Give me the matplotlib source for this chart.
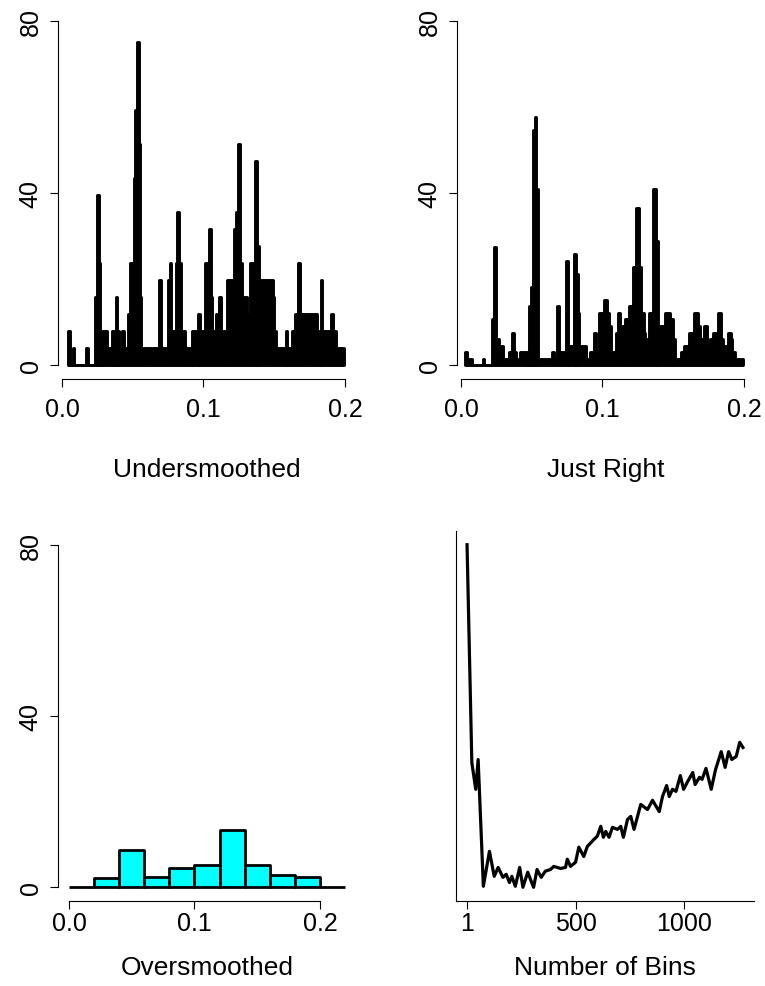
import matplotlib
matplotlib.use("Agg")
import matplotlib.pyplot as plt
import numpy as np

plt.rcParams['font.family'] = ['Liberation Sans', 'DejaVu Sans']

# ---- undersmoothed histogram: step breaks (redshift) and galaxy counts per step
under_breaks = [0.0046, 0.0059, 0.0076, 0.0087, 0.0171, 0.0182, 0.0235, 0.0247, 0.0260, 0.0270,
                0.0286, 0.0300, 0.0307, 0.0318, 0.0353, 0.0367, 0.0382, 0.0392, 0.0403, 0.0424,
                0.0436, 0.0470, 0.0484, 0.0511, 0.0519, 0.0530, 0.0543, 0.0553, 0.0562, 0.0688,
                0.0700, 0.0746, 0.0762, 0.0774, 0.0806, 0.0816, 0.0830, 0.0841, 0.0869, 0.0919,
                0.0958, 0.0972, 0.1013, 0.1025, 0.1036, 0.1050, 0.1060, 0.1088, 0.1113, 0.1127,
                0.1163, 0.1214, 0.1232, 0.1247, 0.1259, 0.1270, 0.1305, 0.1332, 0.1364, 0.1377,
                0.1392, 0.1488, 0.1498, 0.1512, 0.1580, 0.1590, 0.1625, 0.1650, 0.1671, 0.1682,
                0.1802, 0.1830, 0.1841, 0.1898, 0.1912, 0.1936, 0.1993]
under_counts = [2, 0, 1, 0, 1, 0, 4, 10, 6, 1,
                2, 1, 2, 1, 2, 1, 4, 2, 1, 2,
                1, 3, 6, 11, 15, 19, 13, 4, 1, 5,
                1, 5, 6, 2, 6, 9, 6, 2, 1, 2,
                3, 2, 6, 3, 8, 4, 2, 3, 4, 2,
                5, 8, 9, 13, 6, 4, 3, 6, 12, 7,
                5, 4, 2, 1, 2, 1, 2, 3, 6, 3,
                2, 5, 2, 3, 2, 1]
under_unit = 3.945   # density of one galaxy in a bin

# ---- cross-validated histogram (308 bins)
right_breaks = [0.0032, 0.0046, 0.0078, 0.0153, 0.0164, 0.0221, 0.0236, 0.0249, 0.0267, 0.0295,
                0.0338, 0.0364, 0.0377, 0.0388, 0.0402, 0.0416, 0.0441, 0.0449, 0.0460, 0.0470,
                0.0479, 0.0495, 0.0507, 0.0520, 0.0532, 0.0544, 0.0644, 0.0655, 0.0680, 0.0693,
                0.0744, 0.0756, 0.0796, 0.0810, 0.0824, 0.0835, 0.0883, 0.0911, 0.0943, 0.0954,
                0.0979, 0.1014, 0.1032, 0.1046, 0.1060, 0.1096, 0.1107, 0.1121, 0.1132, 0.1157,
                0.1189, 0.1214, 0.1238, 0.1261, 0.1270, 0.1292, 0.1302, 0.1313, 0.1327, 0.1356,
                0.1381, 0.1391, 0.1441, 0.1480, 0.1495, 0.1516, 0.1552, 0.1577, 0.1609, 0.1648,
                0.1676, 0.1690, 0.1719, 0.1740, 0.1762, 0.1783, 0.1801, 0.1815, 0.1840, 0.1854,
                0.1890, 0.1907, 0.1918, 0.1940, 0.1993]
right_counts = [2, 1, 0, 1, 0, 7, 18, 4, 3, 1,
                2, 5, 2, 1, 0, 2, 0, 2, 1, 2,
                9, 12, 36, 38, 27, 1, 2, 1, 9, 2,
                16, 3, 17, 14, 8, 3, 1, 2, 5, 2,
                8, 10, 8, 6, 2, 5, 8, 5, 6, 7,
                9, 15, 24, 15, 8, 5, 4, 3, 8, 27,
                19, 6, 8, 7, 4, 1, 2, 3, 5, 8,
                6, 4, 6, 3, 4, 5, 4, 8, 4, 3,
                5, 4, 2, 1]
right_unit = 1.519

# ---- oversmoothed histogram
over_breaks = np.arange(0, 0.2201, 0.02)
over_density = [0, 2.2, 8.7, 2.4, 4.4, 5.1, 13.3, 5.1, 2.8, 2.5, 0]

# ---- estimated risk against number of bins
risk_bins = [1, 23, 41, 52, 76, 104, 126, 144, 166, 181, 196, 207, 223, 243, 258,
             280, 307, 323, 342, 361, 385, 400, 431, 454, 462, 477, 500, 515, 538, 554,
             585, 600, 616, 628, 639, 654, 670, 693, 708, 720, 739, 754, 769, 800, 831,
             854, 885, 900, 919, 931, 946, 962, 982, 997, 1016, 1039, 1050, 1070, 1082, 1100,
             1124, 1144, 1170, 1188, 1204, 1219, 1239, 1255, 1270]
risk_value = [100.3, 36.7, 28.9, 37.6, 0.6, 10.8, 3.5, 6.1, 3.2, 4.1, 1.7, 3.5, 0.6, 6.1, 0.3,
              4.7, 0.3, 5.5, 3.2, 5.0, 5.5, 6.4, 5.8, 6.1, 8.5, 6.4, 7.6, 12.0, 9.3, 12.2,
              14.3, 15.2, 18.1, 14.9, 16.6, 14.9, 17.8, 17.2, 18.1, 14.9, 20.1, 21.0, 17.2, 24.5, 23.0,
              25.7, 22.4, 26.8, 30.0, 26.8, 28.9, 28.3, 32.9, 28.9, 31.2, 33.8, 30.3, 32.4, 31.8, 35.0,
              28.9, 34.7, 39.9, 35.3, 39.9, 37.6, 38.5, 42.6, 41.1]

W, H = 765, 987
fig = plt.figure(figsize=(W / 100, H / 100), dpi=100)


def box(x0, y0, x1, y1):
    return [x0 / W, 1 - y1 / H, (x1 - x0) / W, (y1 - y0) / H]


TICK_FS = 18
LAB_FS = 19


def r_axes(ax, xticks, xlabels, yticks, ylabels, xb, yb, xpad=7):
    for s in ['top', 'right']:
        ax.spines[s].set_visible(False)
    for s in ['left', 'bottom']:
        ax.spines[s].set_linewidth(0.8)
    ax.spines['bottom'].set_bounds(*xb)
    ax.spines['left'].set_bounds(*yb)
    ax.set_xticks(xticks, xlabels)
    ax.set_yticks(yticks, ylabels)
    ax.tick_params(axis='x', length=6, width=0.8, pad=xpad, labelsize=TICK_FS)
    ax.tick_params(axis='y', length=6, width=0.8, pad=5, labelsize=TICK_FS)
    for t in ax.get_yticklabels():
        t.set_rotation(90)
        t.set_va('center')


def step_hist(ax, breaks, counts, unit):
    left = np.array(breaks[:-1])
    width = np.diff(breaks)
    ax.bar(left, np.array(counts) * unit, width=width, align='edge',
           color='black', edgecolor='black', linewidth=2.1, joinstyle='round')


# top left
ax1 = fig.add_axes(box(58, 8, 356, 380))
step_hist(ax1, under_breaks, under_counts, under_unit)
ax1.set_xlim(-0.0028, 0.2078)
ax1.set_ylim(-3.2, 83.2)
r_axes(ax1, [0, 0.1, 0.2], ['0.0', '0.1', '0.2'], [0, 40, 80], ['0', '40', '80'], (0, 0.2), (0, 80))

# top right
ax2 = fig.add_axes(box(457, 8, 755, 380))
step_hist(ax2, right_breaks, right_counts, right_unit)
ax2.set_xlim(-0.0028, 0.2078)
ax2.set_ylim(-3.2, 83.2)
r_axes(ax2, [0, 0.1, 0.2], ['0.0', '0.1', '0.2'], [0, 40, 80], ['0', '40', '80'], (0, 0.2), (0, 80))

# bottom left
ax3 = fig.add_axes(box(58, 532, 356, 902))
ax3.bar(over_breaks[:-1], over_density, width=0.02, align='edge',
        color='#00FFFF', edgecolor='black', linewidth=2.0, joinstyle='round')
ax3.set_xlim(-0.0088, 0.2288)
ax3.set_ylim(-3.2, 83.2)
r_axes(ax3, [0, 0.1, 0.2], ['0.0', '0.1', '0.2'], [0, 40, 80], ['0', '40', '80'], (0, 0.2), (0, 80),
       xpad=1)

# bottom right
ax4 = fig.add_axes(box(456, 532, 754, 902))
ax4.plot(risk_bins, risk_value, color='black', linewidth=2.3, solid_joinstyle='round')
ax4.set_xlim(-49.8, 1320.8)
ax4.set_ylim(-3.7, 104.3)
for s in ['top', 'right']:
    ax4.spines[s].set_visible(False)
for s in ['left', 'bottom']:
    ax4.spines[s].set_linewidth(0.8)
ax4.set_xticks([1, 500, 1000], ['1', '500', '1000'])
ax4.set_yticks([])
ax4.tick_params(axis='x', length=6, width=0.8, pad=1, labelsize=TICK_FS)

fig.text(207 / W, 1 - 470 / H, 'Undersmoothed', ha='center', va='center', fontsize=LAB_FS)
fig.text(606 / W, 1 - 470 / H, 'Just Right', ha='center', va='center', fontsize=LAB_FS)
fig.text(207 / W, 1 - 968 / H, 'Oversmoothed', ha='center', va='center', fontsize=LAB_FS)
fig.text(605 / W, 1 - 968 / H, 'Number of Bins', ha='center', va='center', fontsize=LAB_FS)

fig.savefig('out.png', dpi=100)
